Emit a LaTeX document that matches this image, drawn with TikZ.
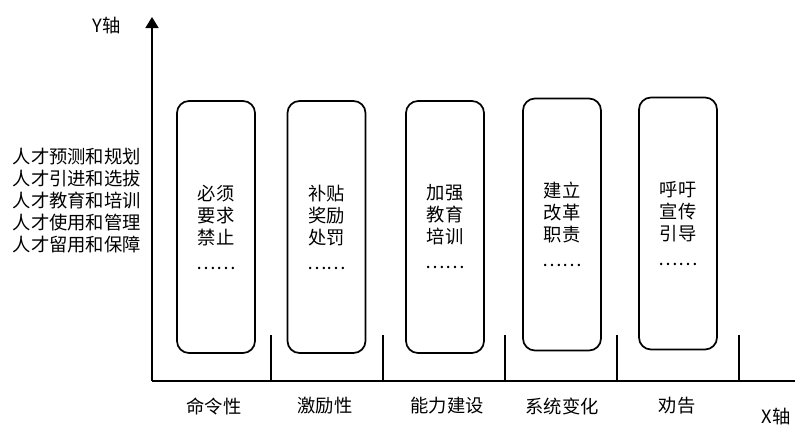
\documentclass[tikz,border=0pt]{standalone}
\usepackage{fontspec}
\setmainfont{Noto Sans CJK SC}
\usetikzlibrary{arrows.meta}
\tikzset{
  bigtxt/.style={font=\fontsize{18.3}{22}\selectfont, inner sep=0pt},
  colbox/.style={draw, line width=1.7pt, rounded corners=12pt, minimum width=78pt, minimum height=252pt, inner sep=0pt, align=center, font=\fontsize{18.3}{22}\selectfont},
  axisline/.style={line width=1.7pt},
  tickline/.style={line width=1.7pt},
}
\begin{document}
\begin{tikzpicture}[x=1pt,y=-1pt]
\useasboundingbox (0,0) rectangle (795,426);
\coordinate (O) at (152,381);
\coordinate (Ytop) at (152,17);
\coordinate (Xend) at (795,381);
\draw[axisline,-{Triangle[width=13pt,length=11pt]}] (O) -- (Ytop);
\draw[axisline] (O) -- (Xend);
\foreach \tx [count=\i] in {271,383,505,617,739} {
  \coordinate (t\i a) at (\tx,335);
  \coordinate (t\i b) at (\tx,381);
  \draw[tickline] (t\i a) -- (t\i b);
}
\node[bigtxt] (ylab) at (107,26) {Y轴};
\node[bigtxt] (xlab) at (776,417) {X轴};
\node[bigtxt, align=right, anchor=east] (left) at (141,201) {人才预测和规划\\人才引进和选拔\\人才教育和培训\\人才使用和管理\\人才留用和保障};
\node[colbox] (b1) at (216,227) {必须\\要求\\禁止\\[3pt]……};
\node[colbox] (b2) at (326.5,227) {补贴\\奖励\\处罚\\[3pt]……};
\node[colbox] (b3) at (445,227) {加强\\教育\\培训\\[3pt]……};
\node[colbox] (b4) at (562,224.5) {建立\\改革\\职责\\[3pt]……};
\node[colbox] (b5) at (678,223.5) {呼吁\\宣传\\引导\\[3pt]……};
\node[bigtxt] (c1) at (214,406) {命令性};
\node[bigtxt] (c2) at (325,406) {激励性};
\node[bigtxt] (c3) at (447,406) {能力建设};
\node[bigtxt] (c4) at (562,406) {系统变化};
\node[bigtxt] (c5) at (677,406) {劝告};
\end{tikzpicture}
\end{document}
